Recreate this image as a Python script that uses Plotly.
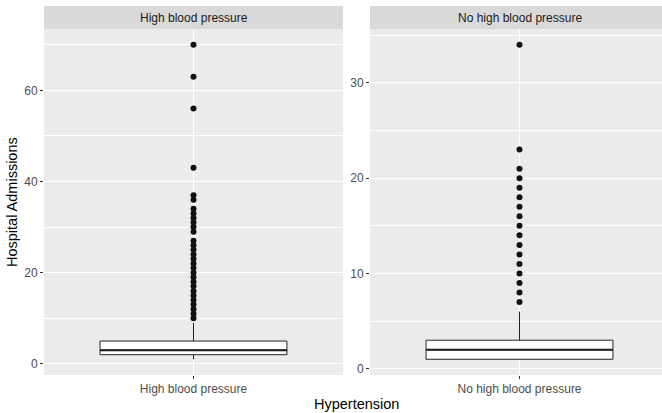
import plotly.graph_objects as go

W, H = 662, 413

# Panels (facets) and their box-plot statistics
panels = ["High blood pressure", "No high blood pressure"]
q1 = [2, 1]
median = [3, 2]
q3 = [5, 3]
lower_whisker = [1, 1]
upper_whisker = [9, 6]

# Outlying admission counts drawn as points
outliers_hbp = [70, 63, 56, 43, 37, 36, 34, 33, 32, 31, 30, 29,
                27, 26, 25, 24, 23, 22, 21, 20, 19, 18, 17, 16,
                15, 14, 13, 12, 11, 10]
outliers_nhbp = [34, 23, 21, 20, 19, 18, 17, 16, 15, 14, 13, 12,
                 11, 10, 9, 8, 7]
outliers = [outliers_hbp, outliers_nhbp]

y_ranges = [[-2.45, 73.45], [-0.65, 35.65]]
y_dtick = [20, 10]

BOX_W = 0.75
PANEL_BG = "#EBEBEB"
STRIP_BG = "#D9D9D9"
FONT = "Liberation Sans, Arial, sans-serif"

# pixel geometry of the two facet panels
px_left = [(44, 343), (370, 662)]
panel_top, panel_bot = 29, 375
strip_top = 6

def fx(p):
    return p / W

def fy(p):
    return 1 - p / H

fig = go.Figure()

for i, name in enumerate(panels):
    xa = "x" if i == 0 else "x2"
    ya = "y" if i == 0 else "y2"
    fig.add_trace(go.Box(
        x=[1], q1=[q1[i]], median=[median[i]], q3=[q3[i]],
        lowerfence=[lower_whisker[i]], upperfence=[upper_whisker[i]],
        boxpoints=False, width=BOX_W, whiskerwidth=0,
        fillcolor="white", line=dict(color="#222222", width=1),
        xaxis=xa, yaxis=ya, showlegend=False, hoverinfo="skip",
    ))
    # thicker median bar
    fig.add_trace(go.Scatter(
        x=[1 - BOX_W / 2, 1 + BOX_W / 2], y=[median[i], median[i]],
        mode="lines", line=dict(color="#1A1A1A", width=2),
        xaxis=xa, yaxis=ya, showlegend=False, hoverinfo="skip",
    ))
    fig.add_trace(go.Scatter(
        x=[1] * len(outliers[i]), y=outliers[i], mode="markers",
        marker=dict(color="#111111", size=6),
        xaxis=xa, yaxis=ya, showlegend=False, hoverinfo="skip",
    ))

common_x = dict(
    showgrid=True, gridcolor="white", gridwidth=1.2, zeroline=False,
    ticks="outside", ticklen=3, tickcolor="#333333", tickwidth=1,
    tickfont=dict(family=FONT, size=12, color="#4D4D4D"),
    tickvals=[1], showline=False, automargin=False, fixedrange=True,
)
common_y = dict(
    showgrid=True, gridcolor="white", gridwidth=1.2, zeroline=False,
    ticks="outside", ticklen=3, tickcolor="#333333", tickwidth=1,
    tickfont=dict(family=FONT, size=12, color="#4D4D4D"),
    showline=False, automargin=False, fixedrange=True,
)

# right facet is clipped by the figure edge: keep same data-per-pixel scale
full_w = px_left[0][1] - px_left[0][0]
right_w = px_left[1][1] - px_left[1][0]

fig.update_layout(
    width=W, height=H,
    margin=dict(l=0, r=0, t=0, b=0),
    paper_bgcolor="white", plot_bgcolor=PANEL_BG,
    font=dict(family=FONT),
    xaxis=dict(domain=[fx(px_left[0][0]), fx(px_left[0][1])], range=[0.4, 1.6],
               ticktext=[panels[0]], anchor="y", **common_x),
    xaxis2=dict(domain=[fx(px_left[1][0]), fx(px_left[1][1])],
                range=[0.4, 0.4 + 1.2 * right_w / full_w],
                ticktext=[panels[1]], anchor="y2", **common_x),
    yaxis=dict(domain=[fy(panel_bot), fy(panel_top)], range=y_ranges[0],
               dtick=y_dtick[0], tick0=0, anchor="x",
               minor=dict(dtick=y_dtick[0] / 2, tick0=0, showgrid=True,
                          gridcolor="white", gridwidth=0.6, ticks=""),
               **common_y),
    yaxis2=dict(domain=[fy(panel_bot), fy(panel_top)], range=y_ranges[1],
                dtick=y_dtick[1], tick0=0, anchor="x2",
                minor=dict(dtick=y_dtick[1] / 2, tick0=0, showgrid=True,
                           gridcolor="white", gridwidth=0.6, ticks=""),
                **common_y),
)

shapes = []
annotations = []
for i, name in enumerate(panels):
    x0, x1 = px_left[i]
    shapes.append(dict(type="rect", xref="paper", yref="paper",
                       x0=fx(x0), x1=fx(x1), y0=fy(panel_top), y1=fy(strip_top),
                       fillcolor=STRIP_BG, line=dict(width=0), layer="below"))
    cx = x0 + full_w / 2
    annotations.append(dict(text=name, xref="paper", yref="paper",
                            x=fx(cx), y=fy((panel_top + strip_top) / 2),
                            xanchor="center", yanchor="middle", showarrow=False,
                            font=dict(family=FONT, size=12, color="#1A1A1A")))

annotations.append(dict(text="Hypertension", xref="paper", yref="paper",
                        x=fx((44 + 669) / 2), y=fy(404), xanchor="center",
                        yanchor="middle", showarrow=False,
                        font=dict(family=FONT, size=14.5, color="black")))
annotations.append(dict(text="Hospital Admissions", xref="paper", yref="paper",
                        x=fx(12), y=fy((panel_top + panel_bot) / 2),
                        xanchor="center", yanchor="middle", textangle=-90,
                        showarrow=False,
                        font=dict(family=FONT, size=14.5, color="black")))

fig.update_layout(shapes=shapes, annotations=annotations)

fig.write_html("out.html")
